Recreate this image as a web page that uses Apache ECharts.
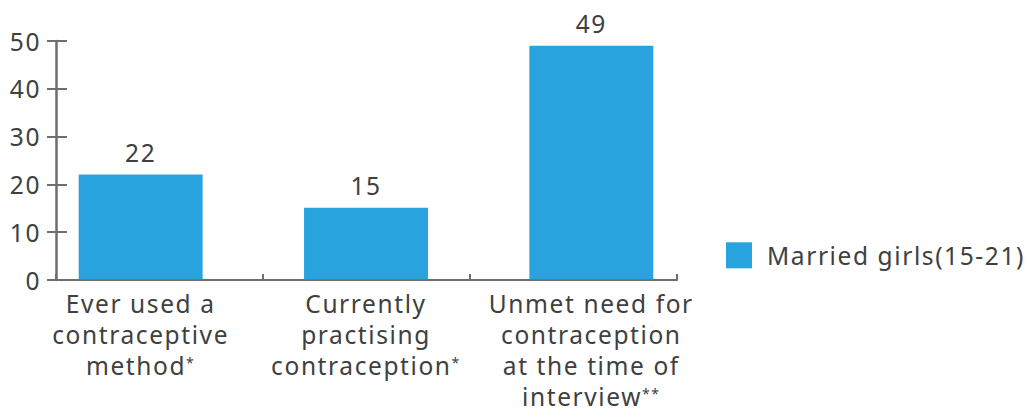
<!DOCTYPE html>
<html>
<head>
<meta charset="utf-8">
<script src="https://cdn.jsdelivr.net/npm/echarts@6/dist/echarts.min.js"></script>
<style>html,body{margin:0;padding:0;background:#fff}#c{width:1027px;height:410px;letter-spacing:1.6px}#c text{letter-spacing:1.6px}</style>
</head>
<body>
<div id="c"></div>
<script>
const categories = [
  "Ever used a\ncontraceptive\nmethod*",
  "Currently\npractising\ncontraception*",
  "Unmet need for\ncontraception\nat the time of\ninterview**"
];
const seriesName = "Married girls(15-21)";
const values = [22, 15, 49];
const yTicks = [0, 10, 20, 30, 40, 50];

const FONT = "Noto Sans";
const TXT = "#404040";
const AX = "#6d6e71";
const BAR = "#29a3de";
const FS = 24.5;
const SPACING = "1.6px";

// measure text the way it is drawn (with the letter spacing set in CSS)
const mctx = document.createElement("canvas").getContext("2d");
if (echarts.setPlatformAPI) {
  echarts.setPlatformAPI({
    measureText: function (text, font) {
      mctx.font = font || "12px sans-serif";
      try { mctx.letterSpacing = SPACING; } catch (e) {}
      return mctx.measureText(text);
    }
  });
}

function fmtCat(v) {
  return v.split("\n").map(line => {
    const m = line.match(/^(.*?)(\*+)$/);
    return m ? "{n|" + m[1] + "}{s|" + m[2] + "}" : "{n|" + line + "}";
  }).join("\n");
}

const yMin = yTicks[0], yMax = yTicks[yTicks.length - 1], yInt = yTicks[1] - yTicks[0];

const chart = echarts.init(document.getElementById("c"), null, { renderer: "svg" });
chart.setOption({
  animation: false,
  textStyle: { fontFamily: FONT },
  grid: [
    { left: 56, right: 350, top: 41, bottom: 130 },
    { left: 28, right: 323, top: 41, bottom: 130 }
  ],
  legend: {
    data: [seriesName],
    left: 721, top: 237,
    itemWidth: 26, itemHeight: 26, itemGap: 10,
    icon: "rect",
    textStyle: { fontFamily: FONT, fontSize: FS, color: TXT, padding: [0, 0, 0, 10] }
  },
  xAxis: [
    {
      type: "category", gridIndex: 0, data: categories,
      axisLine: { show: true, lineStyle: { color: AX, width: 2 } },
      axisTick: { show: true, inside: true, length: 6, lineStyle: { color: AX, width: 2 } },
      axisLabel: { show: false }
    },
    {
      type: "category", gridIndex: 1, data: categories,
      axisLine: { show: false }, axisTick: { show: false },
      axisLabel: {
        show: true, margin: 9, interval: 0,
        formatter: fmtCat,
        rich: {
          n: { fontFamily: FONT, fontSize: FS, color: TXT, lineHeight: 31 },
          s: { fontFamily: FONT, fontSize: 14, color: TXT, lineHeight: 31, verticalAlign: "top", padding: [5, 0, 0, 0] }
        }
      }
    }
  ],
  yAxis: [
    {
      type: "value", gridIndex: 0, position: "left", min: yMin, max: yMax, interval: yInt,
      axisLine: { show: true, lineStyle: { color: AX, width: 2.5 } },
      axisTick: { show: true, length: 9, lineStyle: { color: AX, width: 2 } },
      axisLabel: { color: TXT, fontSize: FS, fontFamily: FONT, margin: 15 },
      splitLine: { show: false }
    },
    {
      type: "value", gridIndex: 0, position: "left", min: yMin, max: yMax, interval: yInt,
      axisLine: { show: false },
      axisTick: { show: true, inside: true, length: 11, lineStyle: { color: AX, width: 2 } },
      axisLabel: { show: false }, splitLine: { show: false }
    },
    {
      type: "value", gridIndex: 1, min: yMin, max: yMax, interval: yInt, show: false,
      splitLine: { show: false }
    }
  ],
  series: [{
    name: seriesName, type: "bar", xAxisIndex: 1, yAxisIndex: 2,
    data: values, barWidth: "55%",
    itemStyle: { color: BAR },
    label: { show: true, position: "top", distance: 9, color: TXT, fontSize: FS, fontFamily: FONT }
  }]
});
</script>
</body>
</html>
